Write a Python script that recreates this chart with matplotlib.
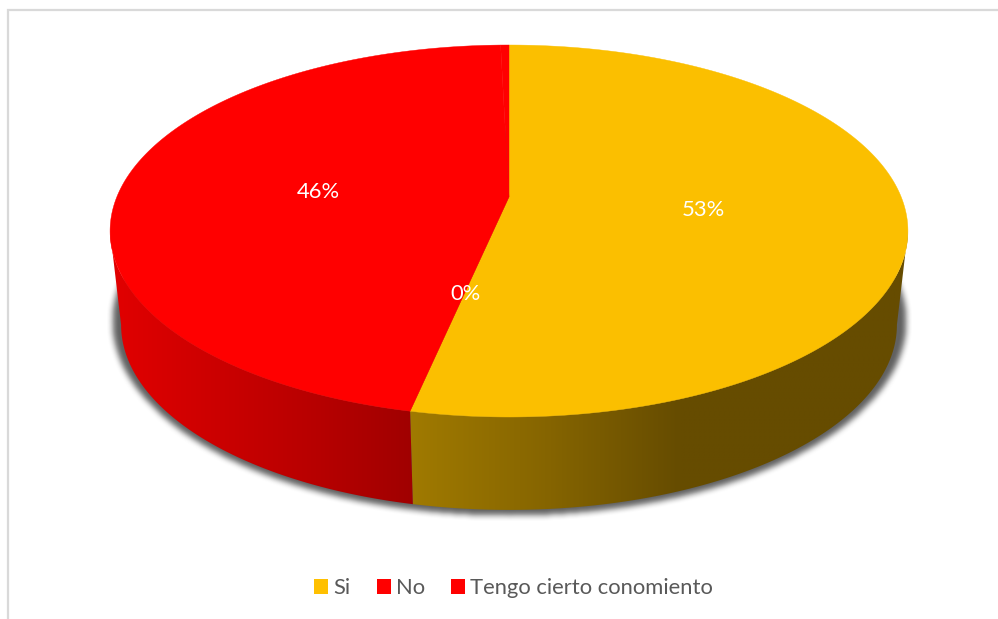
import numpy as np
import matplotlib
matplotlib.use("Agg")
import matplotlib.pyplot as plt
from matplotlib.patches import Polygon, Patch
from matplotlib.colors import LinearSegmentedColormap

plt.rcParams['font.family'] = ['Lato', 'DejaVu Sans']

# Survey shares
categories = ["Si", "No", "Tengo cierto conomiento"]
shares = [53.0, 46.0, 0.4]
share_labels = ["53%", "46%", "0%"]

top_colors = ["#FBBF00", "#FF0000", "#FF0000"]
legend_colors = ["#FFC000", "#FF0000", "#FF0000"]

W, H = 998, 619
fig = plt.figure(figsize=(W / 100, H / 100), dpi=100, facecolor="white")
ax = fig.add_axes([0, 0, 1, 1])
ax.set_xlim(0, W)
ax.set_ylim(H, 0)
ax.axis("off")

# Tilted-disc projection of the unit circle
CX, APEX_Y = 509.0, 197.0
K, SX, SY = 0.1828, 392.2, -143.77
DROP = 95.0


def top_rim(theta):
    px, py = np.sin(theta), np.cos(theta)
    w = 1 + K * py
    return CX + SX * px / w, (APEX_Y + SY * py) / w


def bottom_rim(theta):
    x, y = top_rim(theta)
    return CX + (x - CX) * 0.9724, y * 0.995 + DROP


edges = np.concatenate([[0], np.cumsum(shares)]) / np.sum(shares) * 2 * np.pi

# Angles at which the rim reaches its right and left extremes
right_extreme = np.arccos(-K)
left_extreme = 2 * np.pi - right_extreme

# Soft shadow underneath the disc
yy, xx = np.mgrid[0:H, 0:W]
mask = (((xx - CX) / 397.0) ** 2 + ((yy - 321.0) / 194.0) ** 2 <= 1).astype(float)
kernel = np.ones(7) / 7
for _ in range(2):
    mask = np.apply_along_axis(lambda r: np.convolve(r, kernel, mode="same"), 0, mask)
    mask = np.apply_along_axis(lambda r: np.convolve(r, kernel, mode="same"), 1, mask)
shadow = np.zeros((H, W, 4))
shadow[..., :3] = 0.38
shadow[..., 3] = mask
ax.imshow(shadow, extent=(0, W, H, 0), aspect="auto", zorder=1, interpolation="bilinear")

# Side walls with a horizontal shading ramp
side_ramps = [
    (right_extreme, edges[1],
     [(0.0, "#A07A00"), (0.27, "#866500"), (0.54, "#664C00"), (1.0, "#664C00")], 410, 910),
    (edges[1], left_extreme,
     [(0.0, "#E20000"), (0.35, "#CC0000"), (0.7, "#B60000"), (1.0, "#A00000")], 108, 413),
]
for start, stop, ramp, x0, x1 in side_ramps:
    t = np.linspace(start, stop, 300)
    tx, ty = top_rim(t)
    bx, by = bottom_rim(t)
    wall = Polygon(np.column_stack([np.r_[tx, bx[::-1]], np.r_[ty, by[::-1]]]),
                   closed=True, facecolor="none", edgecolor="none")
    ax.add_patch(wall)
    cmap = LinearSegmentedColormap.from_list("side", ramp)
    img = ax.imshow(np.linspace(0, 1, 400)[None, :], extent=(x0, x1, 520, 200),
                    cmap=cmap, aspect="auto", zorder=2, interpolation="bilinear")
    img.set_clip_path(wall)

# Top face, one sector per category
for i, color in enumerate(top_colors):
    t = np.linspace(edges[i], edges[i + 1], 400)
    x, y = top_rim(t)
    ax.fill(np.r_[CX, x], np.r_[APEX_Y, y], facecolor=color, edgecolor=color,
            linewidth=0.3, zorder=3)

# Percentage labels
label_xy = [(703.5, 209.5), (318, 191.5), (466, 294.5)]
for (lx, ly), text in zip(label_xy, share_labels):
    ax.text(lx, ly, text, color="white", fontsize=15.8, ha="center", va="center", zorder=5)

# Chart frame, open on the right and bottom
ax.plot([8, 8, W], [H, 10, 10], color="#D9D9D9", linewidth=1.6, zorder=0,
        solid_joinstyle="miter")

handles = [Patch(facecolor=c, edgecolor="none", label=n)
           for c, n in zip(legend_colors, categories)]
FS = 15.85
fs_px = FS * 100 / 72
ax.legend(handles=handles, ncol=3, frameon=False, fontsize=FS, labelcolor="#595959",
          loc="center", bbox_to_anchor=(513.5, 588), bbox_transform=ax.transData,
          handlelength=14 / fs_px, handleheight=14 / fs_px, handletextpad=5 / fs_px,
          columnspacing=26 / fs_px, borderpad=0, borderaxespad=0)

ax.set_xlim(0, W)
ax.set_ylim(H, 0)
fig.savefig("out.png", dpi=100, facecolor="white")
